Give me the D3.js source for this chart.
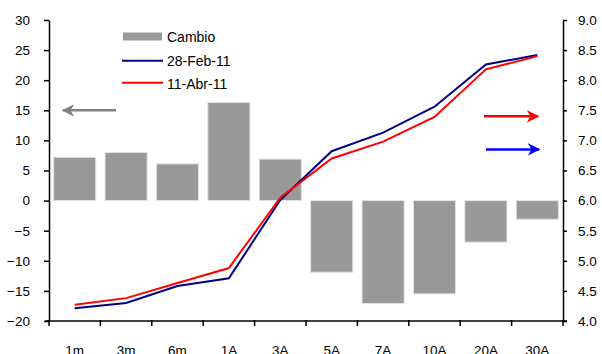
<!DOCTYPE html>
<html>
<head>
<meta charset="utf-8">
<script src="https://cdn.jsdelivr.net/npm/d3@7"></script>
<style>
  html, body { margin: 0; padding: 0; background: #fff; }
  svg { display: block; font-family: "Liberation Sans", Arial, sans-serif; }
</style>
</head>
<body>
<svg id="chart" width="602" height="354"></svg>
<script>
// Plazos de la curva
const categories = ["1m", "3m", "6m", "1A", "3A", "5A", "7A", "10A", "20A", "30A"];
// Cambio (pb), eje izquierdo
const cambio = [7.2, 8.0, 6.1, 16.3, 6.9, -11.9, -17.1, -15.5, -6.9, -3.1];
// Rendimientos (%), eje derecho
const feb28 = [4.21, 4.30, 4.58, 4.71, 6.01, 6.82, 7.13, 7.56, 8.26, 8.42];
const abr11 = [4.27, 4.38, 4.63, 4.88, 6.05, 6.70, 6.98, 7.39, 8.18, 8.40];
// Etiquetas de los ejes
const leftTicks = [-20, -15, -10, -5, 0, 5, 10, 15, 20, 25, 30];
const rightTicks = [4.0, 4.5, 5.0, 5.5, 6.0, 6.5, 7.0, 7.5, 8.0, 8.5, 9.0];
const seriesNames = ["Cambio", "28-Feb-11", "11-Abr-11"];

const svg = d3.select("#chart");
const plotLeft = 49, plotRight = 563, plotTop = 20, plotBottom = 321;

const x = d3.scaleBand().domain(categories).range([plotLeft, plotRight]).paddingInner(0.18).paddingOuter(0.09);
const xEdge = d3.scaleLinear().domain([0, categories.length]).range([plotLeft, plotRight]);
const yL = d3.scaleLinear().domain([-20, 30]).range([plotBottom, plotTop]);
const yR = d3.scaleLinear().domain([4, 9]).range([plotBottom, plotTop]);
const cx = c => x(c) + x.bandwidth() / 2;

// Barras de cambio
svg.append("g").selectAll("rect").data(categories).join("rect")
  .attr("x", c => x(c))
  .attr("width", x.bandwidth())
  .attr("y", (c, i) => Math.min(yL(cambio[i]), yL(0)))
  .attr("height", (c, i) => Math.abs(yL(cambio[i]) - yL(0)))
  .attr("fill", "#999999")
  .attr("stroke", "#e4e4e4")
  .attr("stroke-width", 1);

// Curvas de rendimiento
const line = d3.line().x((d, i) => cx(categories[i])).y(d => yR(d));
svg.append("path").datum(feb28).attr("d", line)
  .attr("fill", "none").attr("stroke", "#000080").attr("stroke-width", 2);
svg.append("path").datum(abr11).attr("d", line)
  .attr("fill", "none").attr("stroke", "#ff0000").attr("stroke-width", 2);

// Ejes
const axisFont = g => g.selectAll("text").attr("font-size", 13.5).attr("fill", "#000")
  .attr("font-family", "'Liberation Sans', Arial, sans-serif");

svg.append("g").attr("transform", `translate(${plotLeft},0)`)
  .call(d3.axisLeft(yL).tickValues(leftTicks).tickFormat(d3.format("d")).tickSize(5).tickSizeOuter(0).tickPadding(14))
  .call(axisFont)
  .call(g => g.selectAll("line,path").attr("stroke", "#000").attr("stroke-width", 1.5));

svg.append("g").attr("transform", `translate(${plotRight},0)`)
  .call(d3.axisRight(yR).tickValues(rightTicks).tickFormat(d3.format(".1f")).tickSize(4).tickSizeOuter(0).tickPadding(11))
  .call(axisFont)
  .call(g => g.selectAll("line,path").attr("stroke", "#000").attr("stroke-width", 1.5));

const xAxis = svg.append("g").attr("transform", `translate(0,${plotBottom})`);
xAxis.append("line").attr("x1", plotLeft - 4).attr("x2", plotRight + 4).attr("stroke", "#000").attr("stroke-width", 1.5);
xAxis.selectAll("line.tick").data(d3.range(categories.length + 1)).join("line")
  .attr("class", "tick")
  .attr("x1", i => xEdge(i)).attr("x2", i => xEdge(i))
  .attr("y1", -1).attr("y2", 5)
  .attr("stroke", "#000").attr("stroke-width", 1.5);
xAxis.selectAll("text").data(categories).join("text")
  .attr("x", c => cx(c)).attr("y", 34)
  .attr("text-anchor", "middle")
  .attr("font-size", 13.5)
  .text(c => c);

// Leyenda
const legend = svg.append("g").attr("font-size", 14);
legend.append("rect").attr("x", 123).attr("y", 32.5).attr("width", 39).attr("height", 8).attr("fill", "#999999");
legend.append("line").attr("x1", 122).attr("x2", 163).attr("y1", 60.7).attr("y2", 60.7).attr("stroke", "#000080").attr("stroke-width", 2);
legend.append("line").attr("x1", 122).attr("x2", 163).attr("y1", 82.7).attr("y2", 82.7).attr("stroke", "#ff0000").attr("stroke-width", 2);
legend.selectAll("text").data(seriesNames).join("text")
  .attr("x", 167).attr("y", (d, i) => 42 + i * 23.5)
  .text(d => d);

// Flechas indicando el eje de cada serie
const defs = svg.append("defs");
[["gris", "#808080"], ["rojo", "#ff0000"], ["azul", "#0000ff"]].forEach(([id, col]) => {
  defs.append("marker").attr("id", "flecha-" + id)
    .attr("viewBox", "0 0 10 10").attr("refX", 9).attr("refY", 5)
    .attr("markerWidth", 5).attr("markerHeight", 5).attr("markerUnits", "strokeWidth")
    .attr("orient", "auto")
    .append("path").attr("d", "M0,0 L10,5 L0,10 L3,5 Z").attr("fill", col);
});
const arrow = (x1, x2, y, id, col) => svg.append("line")
  .attr("x1", x1).attr("x2", x2).attr("y1", y).attr("y2", y)
  .attr("stroke", col).attr("stroke-width", 2.5)
  .attr("marker-end", `url(#flecha-${id})`);
arrow(116, 63, yL(15), "gris", "#808080");
arrow(484, 538, yR(7.4), "rojo", "#ff0000");
arrow(486, 539, yR(6.85), "azul", "#0000ff");
</script>
</body>
</html>
